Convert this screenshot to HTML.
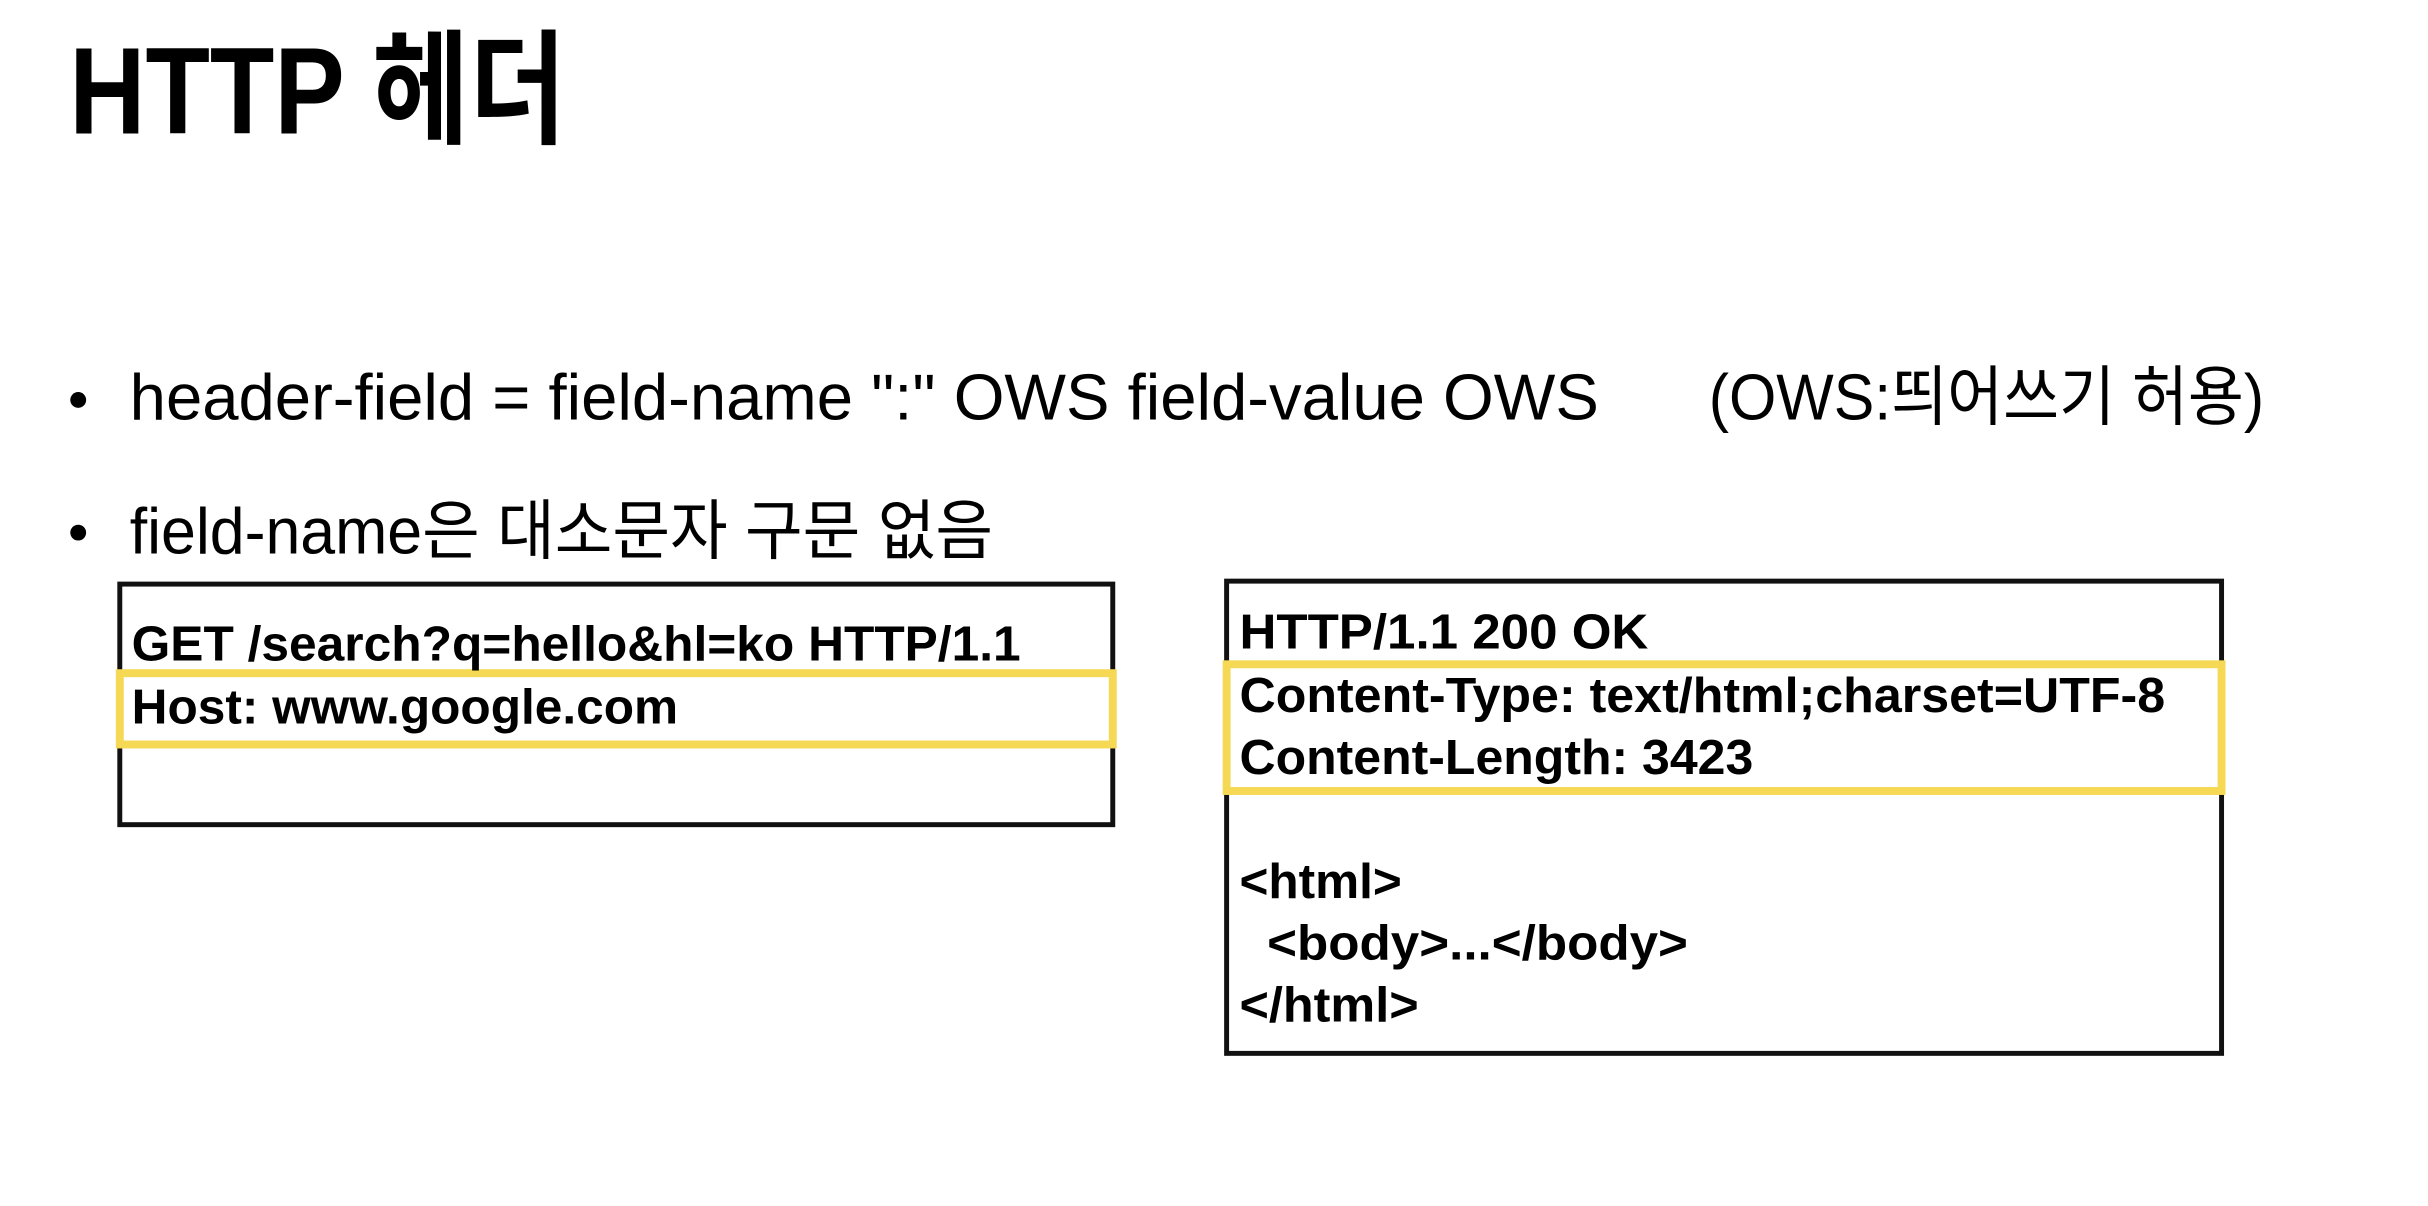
<!DOCTYPE html>
<html><head><meta charset="utf-8"><style>
html,body{margin:0;padding:0;background:#fff;}
svg{display:block;}
text{font-family:"Liberation Sans","Noto Sans CJK KR",sans-serif;fill:#000;}
</style></head><body>
<svg width="2428" height="1206" viewBox="0 0 2428 1206" xmlns="http://www.w3.org/2000/svg">
<g transform="scale(0.99)">
<text x="70" y="135" font-size="125" font-weight="bold" textLength="502" lengthAdjust="spacingAndGlyphs">HTTP 헤더</text>

<circle cx="79" cy="404" r="8"/>
<text x="131" y="424" font-size="66" textLength="1484" lengthAdjust="spacingAndGlyphs">header-field = field-name ":" OWS field-value OWS</text>
<text x="1726" y="424" font-size="66" textLength="561" lengthAdjust="spacingAndGlyphs">(OWS:띄어쓰기 허용)</text>

<circle cx="79" cy="538" r="8"/>
<text x="131" y="559" font-size="66" textLength="872" lengthAdjust="spacingAndGlyphs">field-name은 대소문자 구문 없음</text>

<rect x="121" y="590" width="1003" height="243" fill="none" stroke="#111" stroke-width="5"/>
<rect x="121" y="680" width="1003" height="72" fill="none" stroke="#f5d955" stroke-width="8"/>
<text x="133" y="667" font-size="50" font-weight="bold" textLength="898" lengthAdjust="spacingAndGlyphs">GET /search?q=hello&amp;hl=ko HTTP/1.1</text>
<text x="133" y="731" font-size="50" font-weight="bold" textLength="552" lengthAdjust="spacingAndGlyphs">Host: www.google.com</text>

<rect x="1239" y="587" width="1005" height="477" fill="none" stroke="#111" stroke-width="5"/>
<rect x="1239" y="671" width="1005" height="128" fill="none" stroke="#f5d955" stroke-width="8"/>
<text x="1252" y="655" font-size="50" font-weight="bold" textLength="413" lengthAdjust="spacingAndGlyphs">HTTP/1.1 200 OK</text>
<text x="1252" y="719" font-size="50" font-weight="bold" textLength="935" lengthAdjust="spacingAndGlyphs">Content-Type: text/html;charset=UTF-8</text>
<text x="1252" y="782" font-size="50" font-weight="bold" textLength="519" lengthAdjust="spacingAndGlyphs">Content-Length: 3423</text>
<text x="1252" y="907" font-size="50" font-weight="bold" textLength="164" lengthAdjust="spacingAndGlyphs">&lt;html&gt;</text>
<text x="1280" y="969" font-size="50" font-weight="bold" textLength="425" lengthAdjust="spacingAndGlyphs">&lt;body&gt;...&lt;/body&gt;</text>
<text x="1252" y="1032" font-size="50" font-weight="bold" textLength="181" lengthAdjust="spacingAndGlyphs">&lt;/html&gt;</text>
</g>
</svg>
</body></html>
